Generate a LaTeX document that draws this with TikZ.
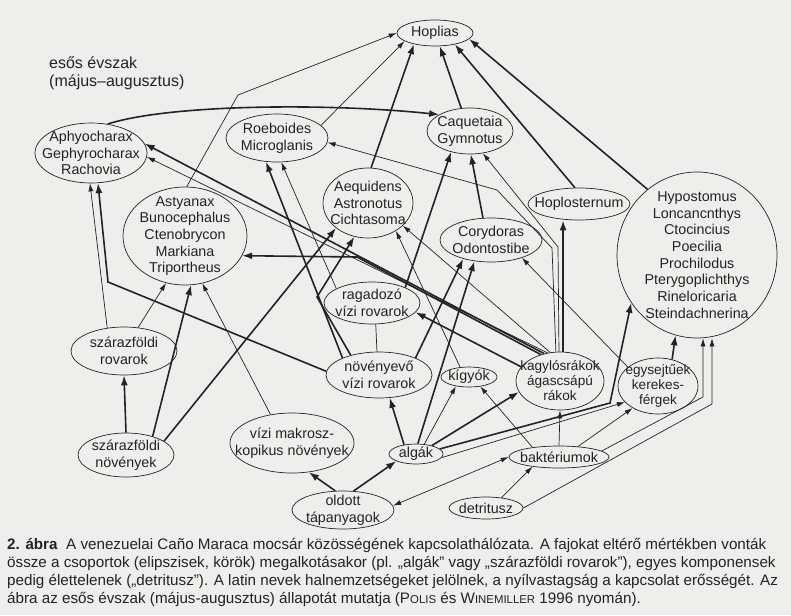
\documentclass[tikz,border=0pt]{standalone}
\usepackage{fontspec}
\setmainfont{Liberation Sans}
\usetikzlibrary{arrows.meta, shapes.geometric, calc}
\definecolor{paper}{RGB}{238,238,236}
\definecolor{ink}{RGB}{35,35,35}
\newcommand{\lab}{\fontsize{14.3}{16.7}\selectfont}
\newcommand{\labt}{\fontsize{13.6}{15}\selectfont}
\newcommand{\capf}{\fontsize{15.2}{18}\selectfont}
\newcommand{\kiskap}[1]{{\fontsize{11.4}{18}\selectfont #1}}

\tikzset{
  grp/.style={ellipse, draw=ink, line width=0.7pt, inner sep=0pt},
  sz/.style 2 args={minimum width=#1pt, minimum height=#2pt},
  txt/.style={font=\lab, text=ink, align=center, inner sep=0pt},
  txtt/.style={font=\labt, text=ink, align=center, inner sep=0pt},
  thk/.style={draw=ink, line width=1.6pt, -{Latex[length=10pt,width=7pt]}},
  thn/.style={draw=ink, line width=0.7pt, -{Latex[length=8pt,width=5pt]}},
}

\begin{document}
\begin{tikzpicture}[x=1pt, y=-1pt]
    \fill[paper] (0,0) rectangle (791,615);
    \useasboundingbox (0,0) rectangle (791,615);

    % Season
    \node[anchor=north west, align=left, font=\fontsize{16}{18}\selectfont, text=ink, inner sep=0pt] (evszak) at (49,57) {esős évszak\\(május--augusztus)};

    % Fish groups
    \node[grp, sz={76}{26}, label={[txt]center:Hoplias}] (hop) at (435,33) {};
    \node[grp, sz={112}{60}, label={[txt]center:Aphyocharax\\Gephyrocharax\\Rachovia}] (aph) at (91,153) {};
    \node[grp, sz={102}{48}, label={[txt]center:Roeboides\\Microglanis}] (roe) at (277,138) {};
    \node[grp, sz={86}{46}, label={[txt]center:Caquetaia\\Gymnotus}] (caq) at (470,131) {};
    \node[grp, sz={90}{70}, label={[txt]center:Aequidens\\Astronotus\\Cichtasoma}] (aeq) at (368,203) {};
    \node[grp, sz={124}{98}, label={[txt]center:Astyanax\\Bunocephalus\\Ctenobrycon\\Markiana\\Triportheus}] (ast) at (185,236) {};
    \node[grp, sz={102}{32}, label={[txt]center:Hoplosternum}] (hpl) at (579,204) {};
    \node[grp, sz={102}{44}, label={[txt]center:Corydoras\\Odontostibe}] (cor) at (491,240) {};
    \node[grp, sz={160}{166}, label={[txt]center:Hypostomus\\Loncancnthys\\Ctocincius\\Poecilia\\Prochilodus\\Pterygoplichthys\\Rineloricaria\\Steindachnerina}] (hyp) at (697,255) {};

    % Invertebrates, plants, base
    \node[grp, sz={96}{42}, label={[txt]center:ragadozó\\vízi rovarok}] (rag) at (372,303) {};
    \node[grp, sz={106}{48}, label={[txt]center:szárazföldi\\rovarok}] (szr) at (124,351) {};
    \node[grp, sz={106}{46}, label={[txt]center:növényevő\\vízi rovarok}] (nov) at (379,375) {};
    \node[grp, sz={56}{20}, label={[txt]center:kígyók}] (kig) at (469,377) {};
    \node[grp, sz={88}{58}, label={[txtt]center:kagylósrákok\\ágascsápú\\rákok}] (kag) at (560,381) {};
    \node[grp, sz={80}{56}, label={[txtt]center:egysejtűek\\kerekes-\\férgek}] (egy) at (658,386) {};
    \node[grp, sz={96}{44}, label={[txt]center:szárazföldi\\növények}] (szn) at (126,455) {};
    \node[grp, sz={124}{60}, label={[txt]center:vízi makrosz-\\kopikus növények}] (viz) at (292,443) {};
    \node[grp, sz={54}{20}, label={[txt]center:algák}] (alg) at (416,454) {};
    \node[grp, sz={100}{22}, label={[txt]center:baktériumok}] (bak) at (559,457) {};
    \node[grp, sz={102}{38}, label={[txt]center:oldott\\tápanyagok}] (old) at (343,510) {};
    \node[grp, sz={74}{22}, label={[txt]center:detritusz}] (det) at (486,508) {};

    % Bends
    \coordinate (k1) at (238,95);
    \coordinate (k2) at (552,248);
    \coordinate (k3) at (497,190);
    \coordinate (k4) at (558,247);
    \coordinate (k5) at (317,297);
    \coordinate (k6) at (357,257);
    \coordinate (k7) at (108,282);
    \coordinate (k8) at (610,403);
    \coordinate (k9) at (703,397);
    \coordinate (k10) at (712,404);

    % To Hoplias
    \draw[thn] (ast.88) -- (k1) -- (hop.west);
    \draw[thn] (roe.16) -- (hop.195);
    \draw[thk] (aeq.85) -- (hop.208);
    \draw[thk] (caq.111) -- (hop.290);
    \draw[thk] (hpl.104) -- (hop.330);
    \draw[thk] (hyp.127) -- (hop.350);

    % To Caquetaia
    \draw[thk] (aph.60) .. controls (170,104) and (330,103) .. (caq.152);
    \draw[thk] (rag.25) -- (caq.228);
    \draw[thk] (cor.110) -- (caq.272);
    \draw[thn] (kag.92) -- (k4) -- (caq.300);

    % To Roeboides
    \draw[thn] (kag.98) -- (k2) -- (k3) -- (roe.355);
    \draw[thk] (nov.155) -- (roe.245);
    \draw[thn] (rag.158) -- (roe.280);

    % To Aequidens
    \draw[thk] (szn.20) -- (aeq.218);
    \draw[thk] (nov.145) -- (k5) -- (aeq.248);
    \draw[thn] (kig.132) -- (aeq.315);
    \draw[thn] (kag.109) -- (aeq.327);

    % To Aphyocharax and Astyanax
    \draw[thk] (kag.120) -- (aph.10);
    \draw[thn] (kag.114) -- (aph.356);
    \draw[thk] (kag.126) -- (k6) -- (ast.341);
    \draw[thn] (szr.126) -- (aph.268);
    \draw[thk] (nov.176) -- (k7) -- (aph.283);
    \draw[thn] (szr.59) -- (ast.248);
    \draw[thk] (szn.35) -- (ast.277);
    \draw[thn] (viz.127) -- (ast.290);
    \draw[thk] (szn.north) -- (szr.south);

    % To Hoplosternum, Corydoras
    \draw[thk] (kag.84) -- (kag.84 |- hpl.south);
    \draw[thk] (nov.25) -- (cor.214);
    \draw[thk] (alg.80) -- (cor.232);
    \draw[thn] (egy.148) -- (cor.330);

    % To Hypostomus
    \draw[thk] (alg.12) -- (k8) -- (hyp.216);
    \draw[thk] (egy.62) -- (hyp.255);
    \draw[thn] (bak.8) -- (k9) -- (k9 |- hyp.south);
    \draw[thn] (det.east) -- (k10) -- (k10 |- hyp.south);

    % Lower web
    \draw[thk] (kag.160) -- (rag.348);
    \draw[thn, -] (rag.280) -- (nov.95);
    \draw[thk] (alg.142) -- (nov.295);
    \draw[thn] (alg.50) -- (kig.215);
    \draw[thn] (bak.160) -- (kig.320);
    \draw[thk] (alg.28) -- (kag.195);
    \draw[thn] (bak.north) -- (kag.south);
    \draw[thn] (alg.352) -- (egy.206);
    \draw[thn] (bak.29) -- (egy.221);
    \draw[thk] (old.61) -- (alg.200);
    \draw[thk] (old.112) -- (viz.300);
    \draw[thn] (det.34) -- (bak.200);
    \draw[thn, {Latex[length=8pt,width=5pt]}-{Latex[length=8pt,width=5pt]}] (old.5) -- (bak.west);

    % Caption
    \node[anchor=north west, align=left, font=\capf, text=ink, inner sep=0pt] (cap) at (7,538)
      {\textbf{2. ábra}\ \ A venezuelai Caño Maraca mocsár közösségének kapcsolathálózata. A fajokat eltérő mértékben vonták\\
       össze a csoportok (elipszisek, körök) megalkotásakor (pl. „algák” vagy „szárazföldi rovarok”), egyes komponensek\\
       pedig élettelenek („detritusz”). A latin nevek halnemzetségeket jelölnek, a nyílvastagság a kapcsolat erősségét. Az\\
       ábra az esős évszak (május-augusztus) állapotát mutatja (P\kiskap{OLIS} és W\kiskap{INEMILLER} 1996 nyomán).};
\end{tikzpicture}
\end{document}
